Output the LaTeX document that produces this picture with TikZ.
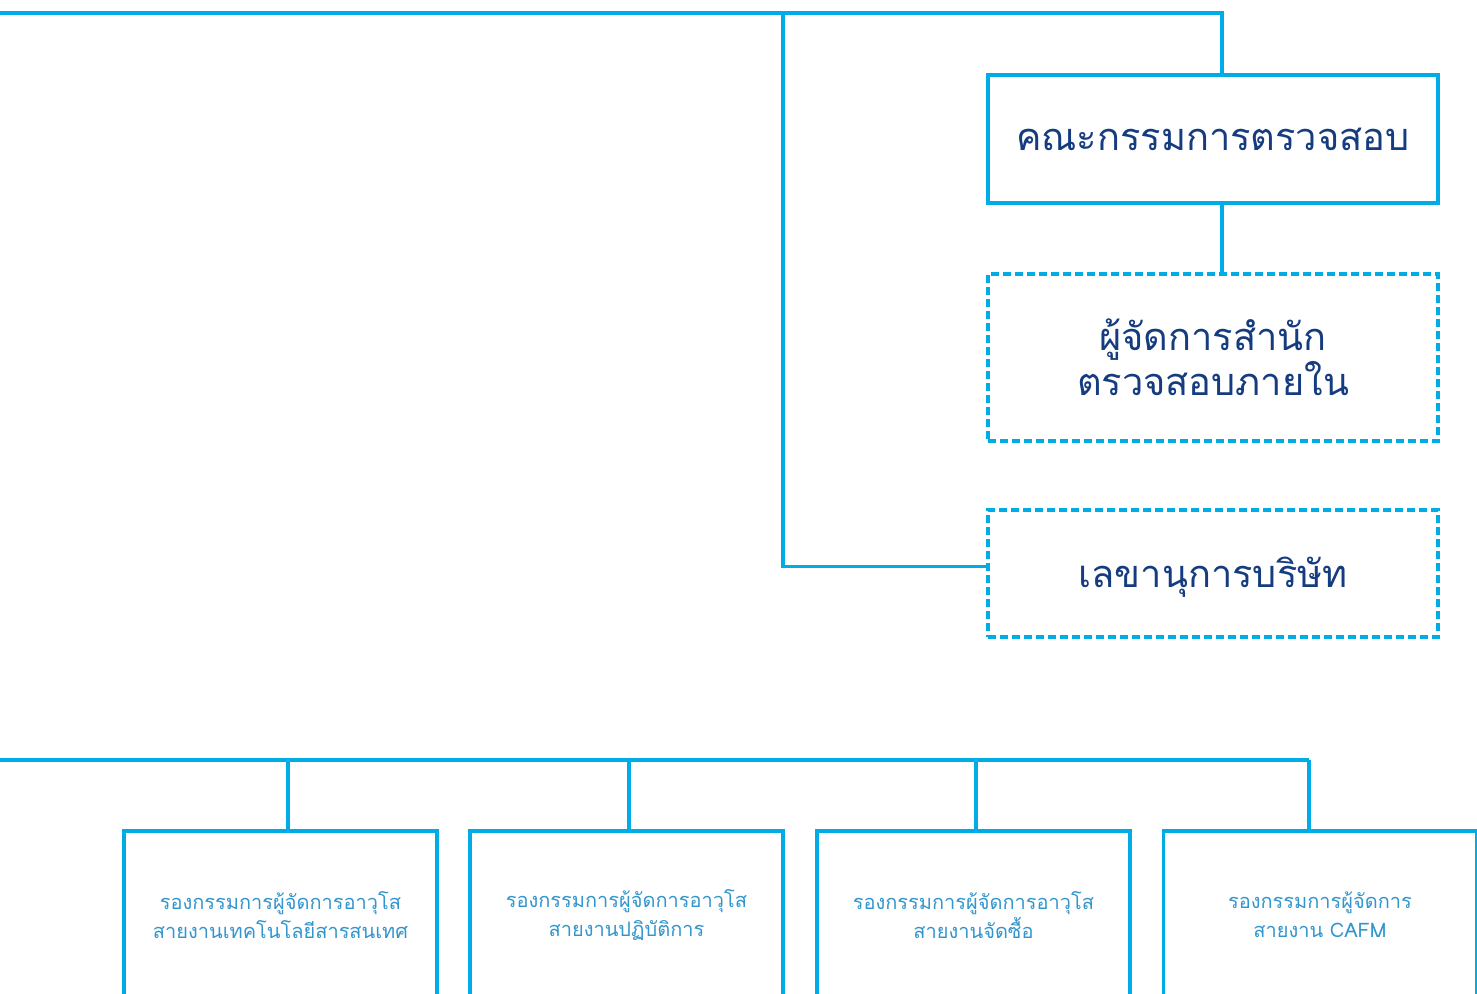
\documentclass[tikz,border=0pt]{standalone}
\usepackage{fontspec}
\newfontfamily\thaifont[Script=Thai]{Loma}
\definecolor{orgline}{RGB}{0,172,230}
\definecolor{darktext}{RGB}{22,60,128}
\definecolor{lighttext}{RGB}{50,150,205}

\begin{document}
\begin{tikzpicture}[x=0.75pt,y=-0.75pt,
    orgline/.style={draw=orgline,line width=2.3pt},
    topbox/.style={orgline,minimum width=337.5pt,inner sep=0pt,align=center,
        text=darktext,font=\thaifont\fontsize{28.5}{33}\selectfont},
    dashbox/.style={topbox,dash pattern=on 6pt off 3pt},
    subbox/.style={orgline,minimum width=234.75pt,minimum height=126pt,inner sep=0pt,
        align=center,text=lighttext,font=\thaifont\fontsize{15}{22}\selectfont}]
    \useasboundingbox (0,0) rectangle (1477,994);
    \clip (0,0) rectangle (1477,994);

    % right column
    \node[topbox,minimum height=96pt] (audit) at (1213,139) {คณะกรรมการตรวจสอบ};
    \node[dashbox,minimum height=125.25pt] (ia) at (1213,357.5) {ผู้จัดการสำนัก\\ตรวจสอบภายใน};
    \node[dashbox,minimum height=95.25pt,text depth=2pt] (secretary) at (1213,573.5) {เลขานุการบริษัท};

    \coordinate (topL) at (0,13);
    \coordinate (j) at (783,13);
    \coordinate (k) at (1222,13);
    \draw[orgline] (topL) -- (k) -- (k |- audit.north);
    \draw[orgline] (j) |- ([yshift=5.6pt]secretary.west);
    \draw[orgline] (k |- audit.south) -- (k |- ia.north);

    % bottom row
    \node[subbox] (it) at (280.5,915) {รองกรรมการผู้จัดการอาวุโส\\สายงานเทคโนโลยีสารสนเทศ};
    \node[subbox] (ops) at (626.5,915) {รองกรรมการผู้จัดการอาวุโส\\สายงานปฏิบัติการ};
    \node[subbox] (buy) at (973.5,915) {รองกรรมการผู้จัดการอาวุโส\\สายงานจัดซื้อ};
    \node[subbox] (cafm) at (1320,915) {รองกรรมการผู้จัดการ\\สายงาน CAFM};

    \coordinate (busL) at (0,760);
    \coordinate (d1) at (288,760);
    \coordinate (d2) at (629,760);
    \coordinate (d3) at (976,760);
    \coordinate (d4) at (1309,760);
    \draw[orgline] (busL) -- (d4);
    \draw[orgline] (d1) -- (d1 |- it.north);
    \draw[orgline] (d2) -- (d2 |- ops.north);
    \draw[orgline] (d3) -- (d3 |- buy.north);
    \draw[orgline] (d4) -- (d4 |- cafm.north);
\end{tikzpicture}
\end{document}
